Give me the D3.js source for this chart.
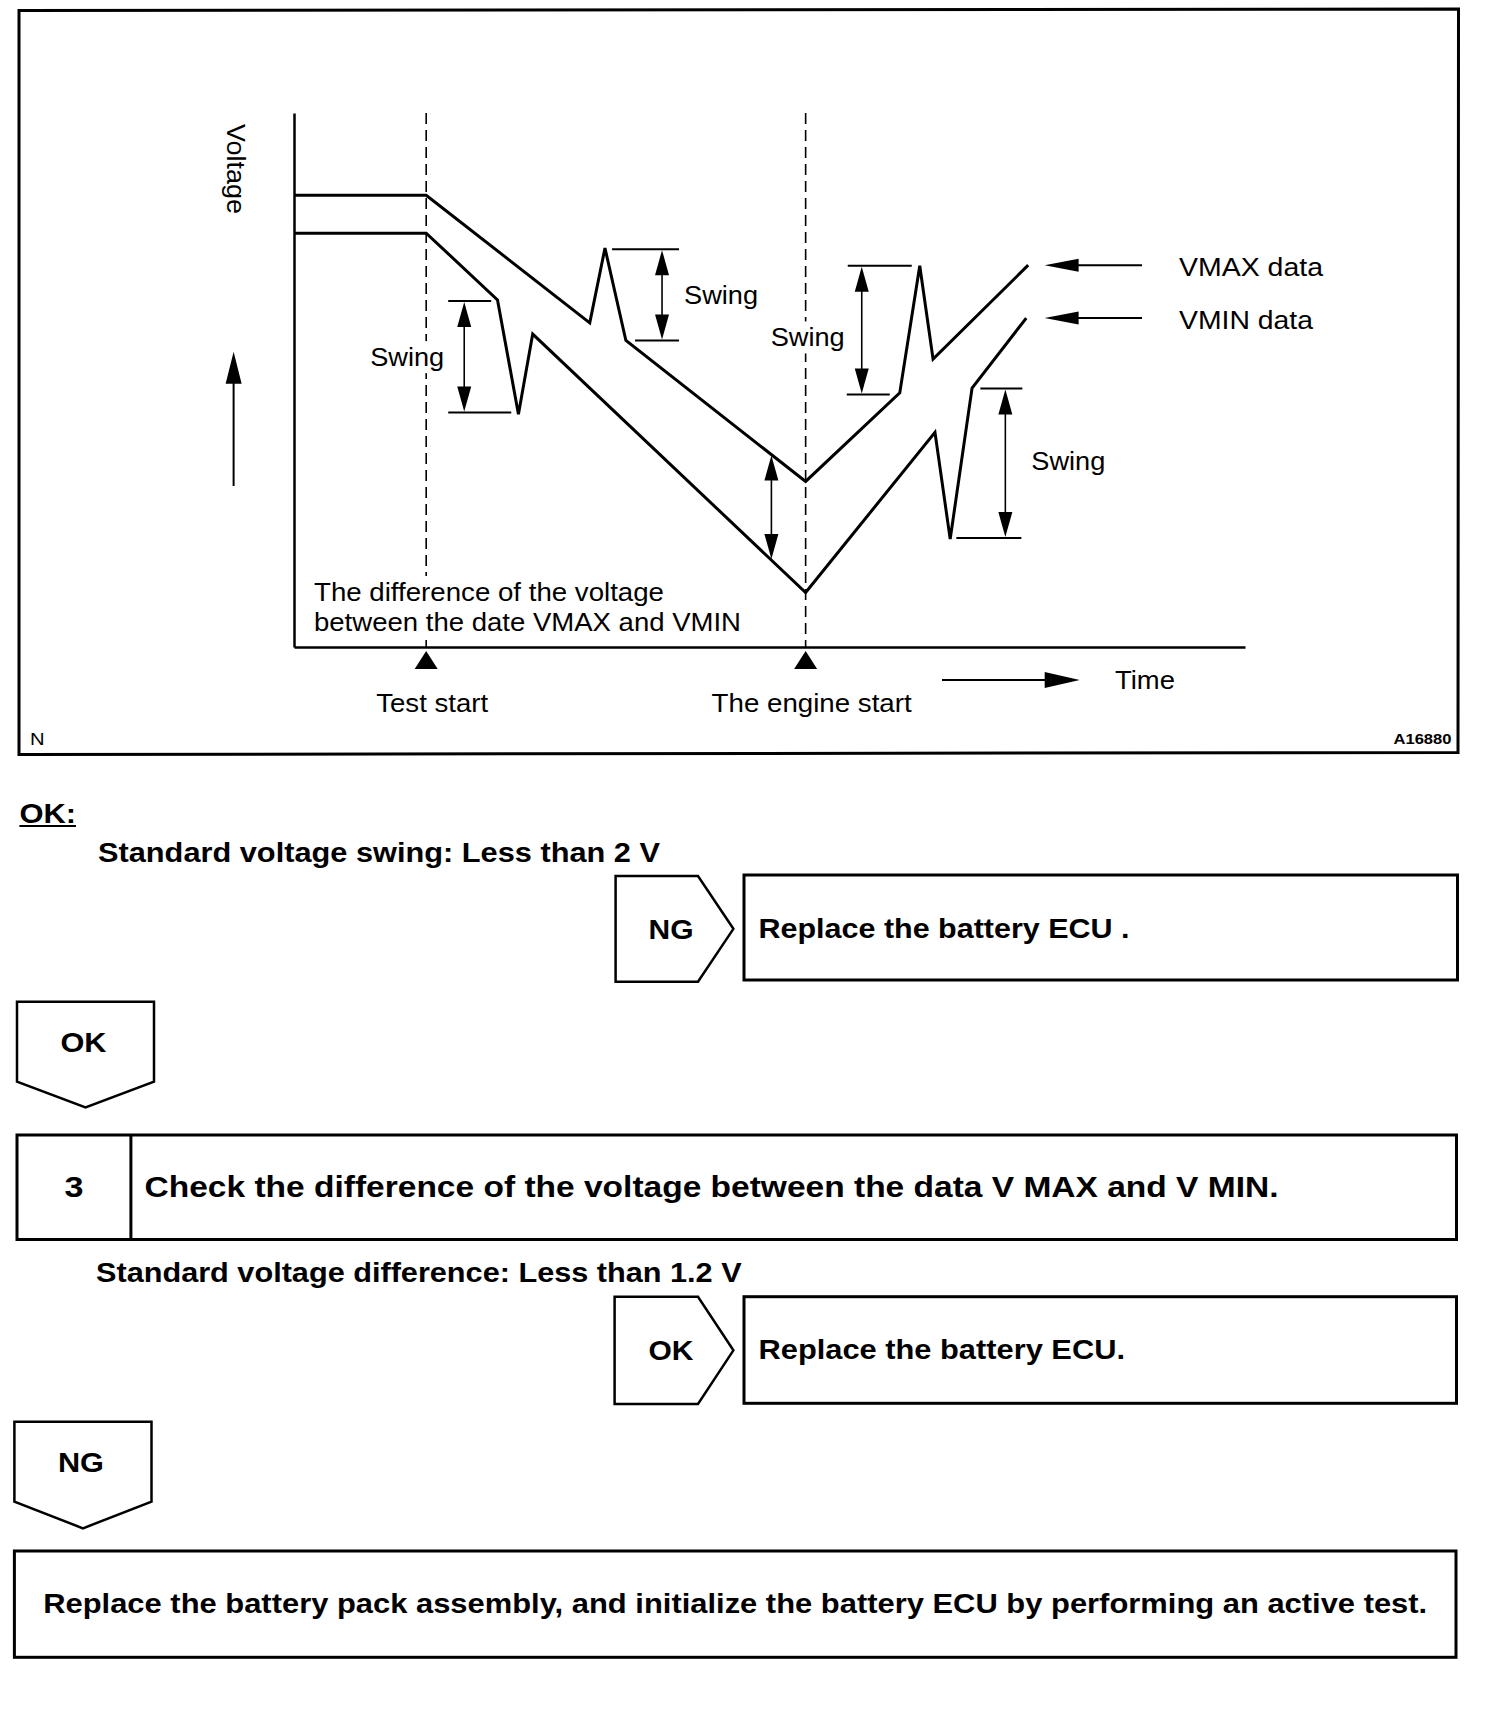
<!DOCTYPE html>
<html>
<head>
<meta charset="utf-8">
<script src="https://cdn.jsdelivr.net/npm/d3@7"></script>
<style>
  body { margin: 0; background: #fff; }
  text { font-family: "Liberation Sans Narrow", "Liberation Sans", Arial, sans-serif; fill: #000; }
</style>
</head>
<body>
<div id="chart"></div>
<script>
// time and voltage in arbitrary units (0-100)
const vmaxTime = [0, 13.9, 31.1, 32.7, 34.9, 53.8, 63.7, 65.8, 67.2, 77.2];
const vmaxVolt = [84.6, 84.6, 60.7, 74.7, 57.4, 31.0, 47.6, 71.4, 53.9, 71.5];
const vminTime = [0, 13.9, 21.4, 23.6, 25.1, 53.8, 67.4, 69.0, 71.3, 77.0];
const vminVolt = [77.5, 77.5, 65.0, 43.6, 58.6, 10.2, 40.2, 20.2, 48.5, 61.6];

const seriesNames = ["VMAX data", "VMIN data"];
const eventNames = ["Test start", "The engine start"];
const eventTimes = [13.9, 53.8];

// swing markers
const swingTimes = [17.9, 38.7, 59.7, 74.8];
const swingHigh = [64.8, 74.5, 71.4, 48.4];
const swingLow = [43.9, 57.4, 47.3, 20.4];
const diffTime = 50.2;

const W = 1504, H = 1718;
const svg = d3.select("#chart").append("svg").attr("width", W).attr("height", H);
svg.append("rect").attr("width", W).attr("height", H).attr("fill", "#fff");

// little helpers
function head(tx, ty, dx, dy, len, hw) {
  const bx = tx - dx * len, by = ty - dy * len;
  const px = -dy * hw, py = dx * hw;
  svg.append("path")
     .attr("d", `M${tx},${ty}L${bx + px},${by + py}L${bx - px},${by - py}Z`)
     .attr("fill", "#000");
}
function seg(x1, y1, x2, y2, w) {
  return svg.append("line")
     .attr("x1", x1).attr("y1", y1).attr("x2", x2).attr("y2", y2)
     .attr("stroke", "#000").attr("stroke-width", w);
}
function txt(s, tx, cy, fs, len, opts) {
  opts = opts || {};
  const t = svg.append("text")
     .attr("x", tx)
     .attr("y", cy + 0.36 * fs)
     .attr("font-size", fs)
     .attr("font-weight", opts.bold ? "bold" : "normal")
     .attr("text-anchor", opts.anchor || "start")
     .text(s);
  if (len) t.attr("textLength", len).attr("lengthAdjust", "spacingAndGlyphs");
  return t;
}
function knockout(t, pad) {
  const b = t.node().getBBox();
  svg.insert("rect", () => t.node())
     .attr("x", b.x - pad).attr("y", b.y - 1)
     .attr("width", b.width + 2 * pad).attr("height", b.height + 2)
     .attr("fill", "#fff");
}
function interp(ts, vs, t) {
  for (let i = 1; i < ts.length; i++) {
    if (t <= ts[i]) {
      const k = (t - ts[i - 1]) / (ts[i] - ts[i - 1]);
      return vs[i - 1] + k * (vs[i] - vs[i - 1]);
    }
  }
  return vs[vs.length - 1];
}

// ---------- diagram ----------
svg.append("path")
   .attr("d", "M19,10.5 L1458.5,9 L1458,752.5 L19,754.5 Z")
   .attr("fill", "none").attr("stroke", "#000").attr("stroke-width", 3);

const x = d3.scaleLinear().domain([0, 100]).range([294, 1245]);
const y = d3.scaleLinear().domain([0, 100]).range([647, 113]);

// event lines + markers
eventTimes.forEach((t, i) => {
  svg.append("line")
     .attr("x1", x(t)).attr("x2", x(t))
     .attr("y1", y(100)).attr("y2", y(0))
     .attr("stroke", "#000").attr("stroke-width", 1.6)
     .attr("stroke-dasharray", "11,6");
  head(x(t), y(0) + 4, 0, -1, 18, 11.5);
  txt(eventNames[i], x(t) + 6, 703, 26, i === 0 ? 112 : 200, { anchor: "middle" });
});

svg.append("g")
   .attr("transform", `translate(${x(0)},0)`)
   .call(d3.axisLeft(y).tickValues([]).tickSizeOuter(0))
   .call(g => g.select(".domain").attr("stroke-width", 2.5));
svg.append("g")
   .attr("transform", `translate(0,${y(0)})`)
   .call(d3.axisBottom(x).tickValues([]).tickSizeOuter(0))
   .call(g => g.select(".domain").attr("stroke-width", 2.5));

// difference text (white ground hides the dashed line)
const dl1 = txt("The difference of the voltage", 314, 591.7, 26, 350);
const dl2 = txt("between the date VMAX and VMIN", 314, 621.7, 26, 427);
svg.insert("rect", () => dl1.node())
   .attr("x", 312).attr("y", 576).attr("width", 432).attr("height", 60).attr("fill", "#fff");

// series lines
const line = d3.line().x(d => x(d[0])).y(d => y(d[1]));
[[vmaxTime, vmaxVolt], [vminTime, vminVolt]].forEach(([ts, vs]) => {
  svg.append("path")
     .datum(ts.map((t, i) => [t, vs[i]]))
     .attr("d", line)
     .attr("fill", "none").attr("stroke", "#000")
     .attr("stroke-width", 3).attr("stroke-linejoin", "miter");
});

// swing annotations
const barTop = [[-16, 27], [-50, 17], [-14, 50], [-25, 17]];
const barBot = [[-16, 47], [-27, 17], [-15, 28], [-49, 16]];
const labelPos = [[-20, 0, "end"], [22, 0, "start"], [-17, 7, "end"], [26, -3, "start"]];
swingTimes.forEach((t, i) => {
  const ax = x(t), yt = y(swingHigh[i]), yb = y(swingLow[i]);
  seg(ax + barTop[i][0], yt, ax + barTop[i][1], yt, 2);
  seg(ax + barBot[i][0], yb, ax + barBot[i][1], yb, 2);
  seg(ax, yt + 10, ax, yb - 10, 1.6);
  head(ax, yt + 1, 0, -1, 25, 7);
  head(ax, yb - 1, 0, 1, 25, 7);
  const lb = txt("Swing", ax + labelPos[i][0], (yt + yb) / 2 + labelPos[i][1], 26, 74, { anchor: labelPos[i][2] });
  knockout(lb, 2);
});

// VMAX - VMIN difference arrow
{
  const ax = x(diffTime);
  const yt = y(interp(vmaxTime, vmaxVolt, diffTime));
  const yb = y(interp(vminTime, vminVolt, diffTime));
  seg(ax, yt + 10, ax, yb - 10, 1.6);
  head(ax, yt + 1, 0, -1, 25, 7);
  head(ax, yb - 1, 0, 1, 25, 7);
}

// series legend arrows
[vmaxVolt, vminVolt].forEach((vs, i) => {
  const ly = y(vs[vs.length - 1]);
  seg(1078, ly, 1142, ly, 2);
  head(1044.6, ly, -1, 0, 34, 6.5);
  txt(seriesNames[i], 1179, ly + 1.5, 26, i === 0 ? 144 : 134);
});

// axis titles
svg.append("text")
   .attr("transform", "translate(236,169) rotate(90)")
   .attr("y", 0.36 * 26)
   .attr("font-size", 26)
   .attr("text-anchor", "middle")
   .attr("textLength", 90).attr("lengthAdjust", "spacingAndGlyphs")
   .text("Voltage");
seg(233.6, 486, 233.6, 375, 2);
head(233.6, 351.7, 0, -1, 32, 8);

seg(942, 680, 1050, 680, 2);
head(1079.7, 680, 1, 0, 35, 8);
txt("Time", 1115, 680, 26, 60);

txt("N", 30, 739.3, 17, 14.6);
txt("A16880", 1451.5, 738.3, 15, 58, { anchor: "end", bold: true });

// ---------- flow chart ----------
function rightTag(l, t, b, label) {
  const mid = (t + b) / 2;
  svg.append("path")
     .attr("d", `M${l},${t}H698L733.4,${mid}L698,${b}H${l}Z`)
     .attr("fill", "none").attr("stroke", "#000").attr("stroke-width", 2.5);
  txt(label, 671, mid, 28, 45, { anchor: "middle", bold: true });
}
function downTag(l, r, t, sb, tip, label) {
  const cx = (l + r) / 2;
  svg.append("path")
     .attr("d", `M${l},${t}H${r}V${sb}L${cx},${tip}L${l},${sb}Z`)
     .attr("fill", "none").attr("stroke", "#000").attr("stroke-width", 2.5);
  txt(label, cx - 2, t + 40.5, 28, 46, { anchor: "middle", bold: true });
}
function box(l, t, r, b) {
  svg.append("rect")
     .attr("x", l).attr("y", t).attr("width", r - l).attr("height", b - t)
     .attr("fill", "none").attr("stroke", "#000").attr("stroke-width", 3);
}

txt("OK:", 19.4, 813, 28, 56.6, { bold: true });
seg(19.4, 826, 76, 826, 2);
txt("Standard voltage swing: Less than 2 V", 98, 851.7, 28, 562, { bold: true });

rightTag(615.6, 876, 981.7, "NG");
box(744, 875, 1457.5, 980);
txt("Replace the battery ECU .", 758.5, 928.3, 28, 371, { bold: true });

downTag(17, 154, 1001.7, 1081.7, 1107.3, "OK");

box(17, 1135, 1456.5, 1239.5);
seg(130.9, 1135, 130.9, 1239.5, 3);
txt("3", 74, 1187, 29, 19, { anchor: "middle", bold: true });
txt("Check the difference of the voltage between the data V MAX and V MIN.", 144.5, 1187, 29, 1134, { bold: true });

txt("Standard voltage difference: Less than 1.2 V", 96, 1271.5, 28, 645.6, { bold: true });

rightTag(614.6, 1296.7, 1404, "OK");
box(744, 1296.7, 1456.5, 1403.3);
txt("Replace the battery ECU.", 758.5, 1349, 28, 366.5, { bold: true });

downTag(14.4, 151.5, 1421.7, 1501.7, 1528.3, "NG");

box(14.4, 1551, 1456, 1657.3);
txt("Replace the battery pack assembly, and initialize the battery ECU by performing an active test.", 43.2, 1603, 28, 1384, { bold: true });
</script>
</body>
</html>
